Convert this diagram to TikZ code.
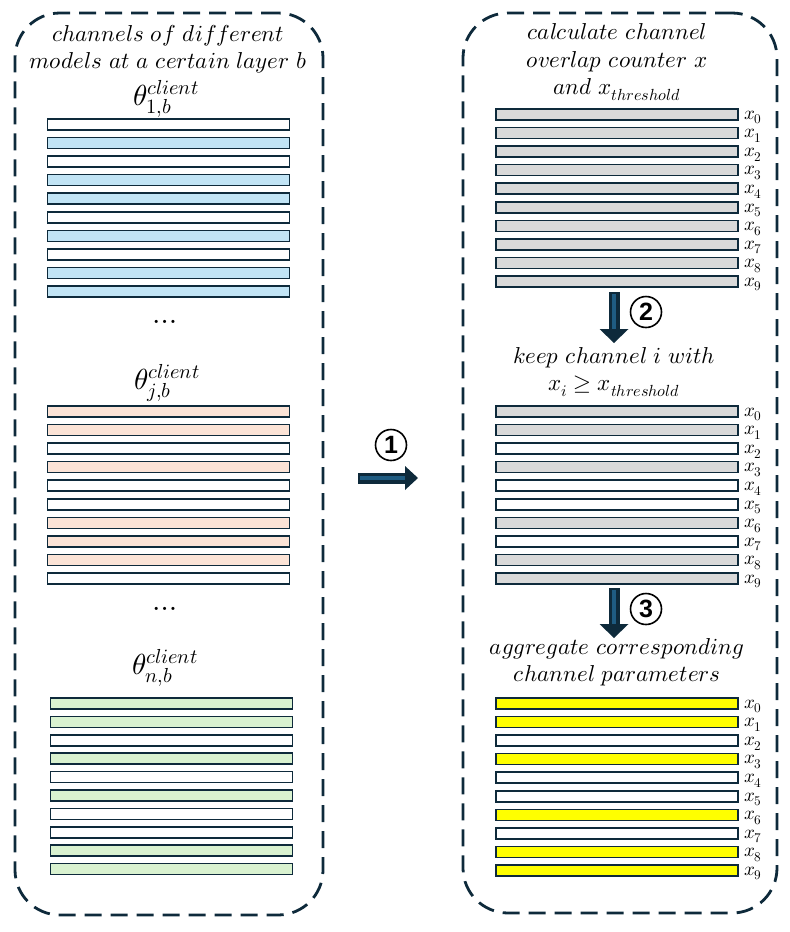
\documentclass[tikz,border=0pt]{standalone}
\usepackage{fontspec}
\usepackage{unicode-math}
\setmathfont{Latin Modern Math}
\newfontfamily\numfont{Liberation Sans}
\usetikzlibrary{arrows.meta}
\definecolor{navy}{HTML}{0E2A3B}
\definecolor{arrowin}{HTML}{1F5C82}
\definecolor{cblue}{HTML}{C1E4F5}
\definecolor{cpeach}{HTML}{FBE3D6}
\definecolor{cgreen}{HTML}{D9F2D0}
\definecolor{cgray}{HTML}{D9D9D9}
\definecolor{cyel}{HTML}{FFFF00}
\tikzset{
  panel/.style={draw=navy, line width=2.8pt, dash pattern=on 17pt off 9pt, rounded corners=45pt, inner sep=0pt},
  bar/.style={draw=navy, line width=1.6pt, minimum height=11pt, inner sep=0pt},
  lbar/.style={bar, minimum width=242pt},
  txt/.style={align=center, font=\fontsize{23}{27.5}\selectfont, inner sep=0pt},
  thetatxt/.style={inner sep=0pt, font=\fontsize{29}{30}\selectfont},
  dotstxt/.style={inner sep=0pt, font=\fontsize{30}{30}\selectfont},
  lbl/.style={anchor=west, inner sep=0pt, font=\fontsize{19}{20}\selectfont},
  circnum/.style={draw=black, circle, line width=1.6pt, minimum size=31pt, inner sep=0pt, font=\numfont\bfseries\fontsize{25}{25}\selectfont},
  blockarrow/.style={draw=navy, line width=11pt},
  innerline/.style={draw=arrowin, line width=3.5pt},
}
\begin{document}
\begin{tikzpicture}[x=1pt,y=-1pt]
\useasboundingbox (0,0) rectangle (790,932);
% panels
\node[panel, minimum width=308pt, minimum height=902pt] (P1) at (169,464) {};
\node[panel, minimum width=314pt, minimum height=900pt] (P2) at (620,463) {};
% left titles
\node[txt] (T1) at (168,49) {$channels\ of\ different$\\$models\ at\ a\ certain\ layer\ b$};
\node[thetatxt] (TH1) at (166,99) {$\theta_{1,b}^{client}$};
\node[thetatxt] (TH2) at (167,383) {$\theta_{j,b}^{client}$};
\node[thetatxt] (TH3) at (165,668) {$\theta_{n,b}^{client}$};
\node[dotstxt] (D1) at (168,322) {$\dots$};
\node[dotstxt] (D2) at (168,609) {$\dots$};
% left bars
\foreach \c [count=\i from 0] in {white,cblue,white,cblue,cblue,white,cblue,white,cblue,cblue}
  \node[lbar, fill=\c] (La\i) at (168.5,{124.5+18.56*\i}) {};
\foreach \c [count=\i from 0] in {cpeach,cpeach,white,cpeach,white,white,cpeach,cpeach,cpeach,white}
  \node[lbar, fill=\c] (Lb\i) at (168.5,{411.5+18.56*\i}) {};
\foreach \c [count=\i from 0] in {cgreen,cgreen,white,cgreen,white,cgreen,white,white,cgreen,cgreen}
  \node[lbar, fill=\c] (Lc\i) at (171.5,{703.5+18.4*\i}) {};
% right titles
\node[txt] (T2) at (617,62) {$calculate\ channel$\\$overlap\ counter\ x$\\$and\ x_{threshold}$};
\node[txt] (T3) at (614,372) {$keep\ channel\ i\ with$\\$x_i\geq x_{threshold}$};
\node[txt] (T4) at (617,662) {$aggregate\ corresponding$\\$channel\ parameters$};
% right bars
\foreach \c [count=\i from 0] in {cgray,cgray,cgray,cgray,cgray,cgray,cgray,cgray,cgray,cgray}{
  \node[lbar, fill=\c] (Ra\i) at (617,{114.5+18.56*\i}) {};
  \node[lbl] (Xa\i) at ([xshift=5pt,yshift=-3pt]Ra\i.east) {$x_{\i}$};
}
\foreach \c [count=\i from 0] in {cgray,cgray,white,cgray,white,white,cgray,white,cgray,cgray}{
  \node[lbar, fill=\c] (Rb\i) at (617,{411.5+18.56*\i}) {};
  \node[lbl] (Xb\i) at ([xshift=5pt,yshift=-3pt]Rb\i.east) {$x_{\i}$};
}
\foreach \c [count=\i from 0] in {cyel,cyel,white,cyel,white,white,cyel,white,cyel,cyel}{
  \node[lbar, fill=\c] (Rc\i) at (617,{703.5+18.56*\i}) {};
  \node[lbl] (Xc\i) at ([xshift=5pt,yshift=-3pt]Rc\i.east) {$x_{\i}$};
}
% arrows
\coordinate (a1s) at (358,478); \coordinate (a1e) at (418,478); \coordinate (a1m) at (405,478);
\coordinate (a2s) at (614,292); \coordinate (a2e) at (614,343); \coordinate (a2m) at (614,329);
\coordinate (a3s) at (614,588); \coordinate (a3e) at (614,638); \coordinate (a3m) at (614,624);
\draw[blockarrow, -{Triangle[length=13pt,width=24pt,line width=0pt]}] (a1s) -- (a1e);
\draw[innerline] ([xshift=2pt]a1s) -- (a1m);
\draw[blockarrow, -{Triangle[length=14pt,width=29pt,line width=0pt]}] (a2s) -- (a2e);
\draw[innerline] ([yshift=-2pt]a2s) -- (a2m);
\draw[blockarrow, -{Triangle[length=14pt,width=29pt,line width=0pt]}] (a3s) -- (a3e);
\draw[innerline] ([yshift=-2pt]a3s) -- (a3m);
\node[circnum] (C1) at (391,445) {1};
\node[circnum] (C2) at (646,312) {2};
\node[circnum] (C3) at (646,609) {3};
\end{tikzpicture}
\end{document}
